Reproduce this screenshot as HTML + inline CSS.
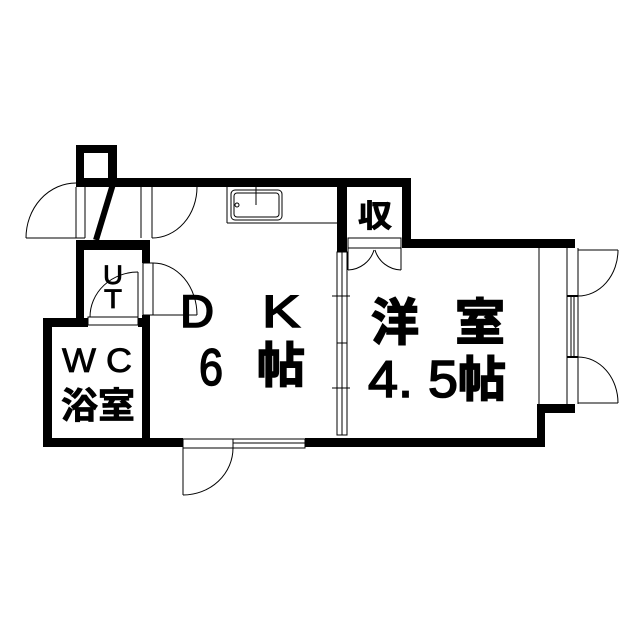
<!DOCTYPE html>
<html><head><meta charset="utf-8"><style>
html,body{margin:0;padding:0;background:#fff;}
svg{display:block;}
text{font-family:"Liberation Sans","Noto Sans CJK JP",sans-serif;fill:#000;}
.b{stroke:#000;stroke-width:1.6;}
.m{stroke:#000;stroke-width:0.8;}
</style></head><body>
<svg width="640" height="640" viewBox="0 0 640 640" xmlns="http://www.w3.org/2000/svg">
<g fill="#000">
  <path d="M76 145H117V187H76Z M84 153V178H108V153Z" fill-rule="evenodd"/>
  <rect x="108" y="178" width="303" height="9"/>
  <rect x="338" y="178" width="9" height="72"/>
  <rect x="402" y="178" width="9" height="70"/>
  <rect x="402" y="239" width="173" height="9"/>
  <rect x="537" y="404" width="38" height="9"/>
  <rect x="537" y="404" width="8" height="43"/>
  <rect x="43" y="438" width="140" height="9"/>
  <rect x="305" y="438" width="240" height="9"/>
  <rect x="76" y="240" width="74" height="10"/>
  <rect x="76" y="240" width="8" height="80"/>
  <rect x="142" y="240" width="8" height="23"/>
  <rect x="142" y="315" width="8" height="10"/>
  <rect x="43" y="318" width="9" height="129"/>
  <rect x="43" y="318" width="45" height="9"/>
  <rect x="138" y="318" width="12" height="9"/>
  <rect x="142" y="318" width="8" height="129"/>
  <rect x="337" y="187" width="10" height="65"/>
</g>
<g fill="none" stroke="#000" stroke-width="1">
  <line x1="113" y1="184" x2="96" y2="240" stroke-width="6"/>
  <line x1="76" y1="187" x2="76" y2="238"/>
  <line x1="85" y1="187" x2="85" y2="238"/>
  <line x1="26" y1="238" x2="85" y2="238"/>
  <path d="M26 238 A50 55 0 0 1 76 183"/>
  <line x1="141" y1="187" x2="141" y2="238"/>
  <line x1="152" y1="187" x2="152" y2="238"/>
  <path d="M152 238 A45 51 0 0 0 197 187"/>
  <rect x="143" y="263" width="10" height="52"/>
  <line x1="153" y1="315" x2="197" y2="315"/>
  <path d="M153 263 A44 52 0 0 1 197 315"/>
  <rect x="88" y="317" width="50" height="8"/>
  <line x1="138" y1="272" x2="138" y2="317"/>
  <path d="M90 317 A48 45 0 0 1 138 272"/>
  <line x1="227" y1="187" x2="227" y2="223"/>
  <line x1="227" y1="223" x2="337" y2="223"/>
  <rect x="231" y="190" width="51" height="30" rx="4"/>
  <rect x="234" y="193" width="45" height="24" rx="3"/>
  <line x1="256" y1="187" x2="256" y2="205"/>
  <circle cx="237" cy="205" r="2"/>
  <rect x="337" y="252" width="10" height="183"/>
  <line x1="342" y1="252" x2="342" y2="435"/>
  <line x1="332" y1="296" x2="350" y2="296"/>
  <line x1="332" y1="388" x2="350" y2="388"/>
  <line x1="337" y1="343" x2="347" y2="343"/>
  <rect x="348" y="238" width="53" height="10"/>
  <path d="M348 270 A28 28 0 0 0 374 250"/>
  <path d="M401 270 A28 28 0 0 1 375 250"/>
  <line x1="348" y1="248" x2="348" y2="270"/>
  <line x1="401" y1="248" x2="401" y2="270"/>
  <line x1="539" y1="248" x2="539" y2="404"/>
  <line x1="567" y1="248" x2="567" y2="404"/>
  <line x1="578" y1="248" x2="578" y2="404"/>
  <line x1="571" y1="296" x2="571" y2="357"/>
  <line x1="574" y1="296" x2="574" y2="357"/>
  <line x1="567" y1="296" x2="578" y2="296" stroke-width="2"/>
  <line x1="567" y1="357" x2="578" y2="357" stroke-width="2"/>
  <line x1="578" y1="250" x2="618" y2="250"/>
  <path d="M618 250 A40 46 0 0 1 578 296"/>
  <line x1="578" y1="403" x2="618" y2="403"/>
  <path d="M578 357 A40 46 0 0 1 618 403"/>
  <rect x="183" y="439" width="50" height="9"/>
  <rect x="233" y="439" width="72" height="9"/>
  <line x1="233" y1="443" x2="305" y2="443"/>
  <line x1="183" y1="448" x2="183" y2="495"/>
  <path d="M183 495 A50 47 0 0 0 233 448"/>
</g>
<text class="b" x="180" y="327" font-size="45" textLength="34" lengthAdjust="spacingAndGlyphs">D</text>
<text class="b" x="262" y="327" font-size="45" textLength="38" lengthAdjust="spacingAndGlyphs">K</text>
<text class="b" x="199" y="385" font-size="52" textLength="24" lengthAdjust="spacingAndGlyphs">6</text>
<text class="b" x="257" y="382" font-size="48" font-weight="bold" textLength="48" lengthAdjust="spacingAndGlyphs">帖</text>
<text class="b" x="371" y="340" font-size="50" font-weight="bold" textLength="48" lengthAdjust="spacingAndGlyphs">洋</text>
<text class="b" x="455" y="340" font-size="50" font-weight="bold" textLength="50" lengthAdjust="spacingAndGlyphs">室</text>
<text class="b" x="368" y="397" font-size="52" textLength="90" lengthAdjust="spacingAndGlyphs">4. 5</text>
<text class="b" x="458" y="396" font-size="48" font-weight="bold" textLength="48" lengthAdjust="spacingAndGlyphs">帖</text>
<text class="m" x="62" y="372" font-size="34" textLength="70" lengthAdjust="spacingAndGlyphs">W C</text>
<text class="m" x="61" y="418" font-size="36" font-weight="bold" textLength="74" lengthAdjust="spacingAndGlyphs">浴室</text>
<text class="m" x="103" y="284" font-size="27" textLength="20" lengthAdjust="spacingAndGlyphs">U</text>
<text class="m" x="104" y="308" font-size="27" textLength="18" lengthAdjust="spacingAndGlyphs">T</text>
<text class="m" x="358" y="227" font-size="31" font-weight="bold" textLength="34" lengthAdjust="spacingAndGlyphs">収</text>
</svg>
</body></html>
